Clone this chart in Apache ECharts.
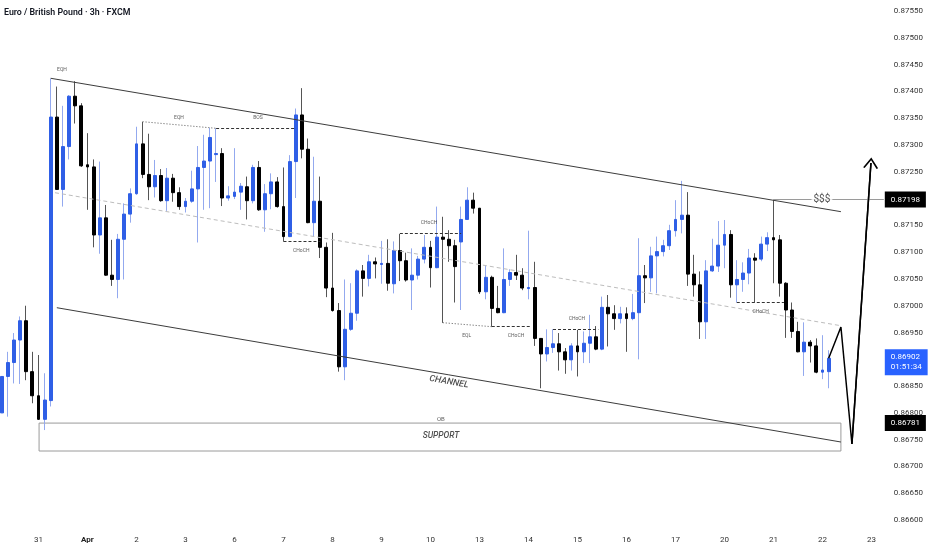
<!DOCTYPE html>
<html><head><meta charset="utf-8">
<script src="https://cdn.jsdelivr.net/npm/echarts@6/dist/echarts.min.js"></script>
<style>html,body{margin:0;padding:0;background:#fff}#c{width:932px;height:550px}</style>
</head><body><div id="c"></div>
<script>
// ---- data (3h candles, EUR/GBP) ----
const dayLabels = ['31','Apr','2','3','6','7','8','9','10','13','14','15','16','17','20','21','22','23'];
const firstDaySlot = 6, barsPerDay = 8, totalSlots = 145;

const opens = [0.86800,0.86868,0.86894,0.86936,0.86972,0.86877,0.86832,0.86788,0.86823,0.87352,
0.87217,0.87297,0.87391,0.87373,0.87263,0.87259,0.87132,0.87164,0.87057,0.87049,
0.87124,0.87171,0.87209,0.87302,0.87245,0.87222,0.87243,0.87196,0.87238,0.87211,
0.87185,0.87195,0.87218,0.87258,0.87270,0.87282,0.87284,0.87201,0.87204,0.87212,
0.87222,0.87196,0.87258,0.87179,0.87209,0.87231,0.87185,0.87129,0.87269,0.87356,
0.87292,0.87155,0.87195,0.87109,0.87033,0.86991,0.86886,0.86956,0.86986,0.87065,
0.87051,0.87082,0.87077,0.87079,0.87041,0.87103,0.87084,0.87048,0.87057,0.87087,
0.87109,0.87071,0.87128,0.87124,0.87112,0.87119,0.87161,0.87197,0.87182,0.87026,
0.87053,0.86995,0.86987,0.87049,0.87062,0.87057,0.87032,0.87034,0.86939,0.86910,
0.86922,0.86929,0.86914,0.86899,0.86925,0.86914,0.86930,0.86942,0.86919,0.86997,
0.86985,0.86976,0.86985,0.86976,0.86987,0.87056,0.87052,0.87093,0.87101,0.87112,
0.87140,0.87161,0.87169,0.87059,0.87039,0.86970,0.87065,0.87074,0.87113,0.87133,
0.87039,0.87049,0.87061,0.87089,0.87087,0.87115,0.87127,0.87123,0.87042,0.86992,
0.86952,0.86914,0.86932,0.86925,0.86876,0.86877];
const closes = [0.86868,0.86894,0.86936,0.86972,0.86877,0.86832,0.86788,0.86824,0.87352,0.87217,
0.87297,0.87391,0.87373,0.87261,0.87259,0.87132,0.87164,0.87057,0.87049,0.87124,
0.87171,0.87209,0.87302,0.87245,0.87222,0.87243,0.87196,0.87238,0.87211,0.87185,
0.87195,0.87218,0.87258,0.87270,0.87314,0.87284,0.87201,0.87205,0.87212,0.87223,
0.87196,0.87258,0.87179,0.87209,0.87231,0.87185,0.87129,0.87269,0.87356,0.87292,
0.87155,0.87195,0.87109,0.87033,0.86991,0.86886,0.86956,0.86986,0.87065,0.87051,
0.87082,0.87078,0.87079,0.87042,0.87103,0.87084,0.87048,0.87057,0.87087,0.87109,
0.87071,0.87128,0.87124,0.87112,0.87073,0.87161,0.87197,0.87182,0.87026,0.87053,
0.86995,0.86987,0.87049,0.87062,0.87057,0.87033,0.87034,0.86939,0.86910,0.86922,
0.86929,0.86914,0.86899,0.86925,0.86914,0.86930,0.86942,0.86919,0.86997,0.86985,
0.86976,0.86985,0.86976,0.86987,0.87056,0.87052,0.87093,0.87101,0.87112,0.87140,
0.87161,0.87169,0.87059,0.87039,0.86970,0.87065,0.87074,0.87113,0.87133,0.87039,
0.87049,0.87061,0.87089,0.87085,0.87115,0.87127,0.87123,0.87042,0.86992,0.86952,
0.86914,0.86932,0.86925,0.86876,0.86880,0.86902];
const lows = [0.86790,0.86793,0.86855,0.86854,0.86861,0.86818,0.86787,0.86768,0.86812,0.87216,
0.87185,0.87273,0.87340,0.87259,0.87179,0.87109,0.87097,0.87056,0.87037,0.87014,
0.87049,0.87155,0.87207,0.87238,0.87197,0.87202,0.87194,0.87177,0.87194,0.87179,
0.87174,0.87192,0.87118,0.87179,0.87182,0.87231,0.87186,0.87196,0.87199,0.87179,
0.87161,0.87191,0.87177,0.87138,0.87180,0.87183,0.87120,0.87128,0.87201,0.87275,
0.87154,0.87129,0.87089,0.87016,0.86989,0.86877,0.86861,0.86953,0.86972,0.87017,
0.87036,0.87051,0.87041,0.87028,0.87023,0.87046,0.87045,0.86992,0.87049,0.87079,
0.87034,0.87070,0.86968,0.87082,0.87006,0.86992,0.87160,0.87172,0.87022,0.87012,
0.86961,0.86986,0.86986,0.87037,0.87048,0.87029,0.87012,0.86925,0.86846,0.86896,
0.86912,0.86879,0.86873,0.86879,0.86868,0.86893,0.86893,0.86917,0.86917,0.86924,
0.86955,0.86967,0.86914,0.86973,0.86900,0.87005,0.87026,0.87023,0.87092,0.87104,
0.87129,0.87135,0.87037,0.87017,0.86938,0.86938,0.87063,0.87063,0.87070,0.87015,
0.87006,0.87026,0.87040,0.87006,0.87083,0.87102,0.87042,0.87017,0.86940,0.86940,
0.86913,0.86869,0.86894,0.86874,0.86863,0.86846];
const highs = [0.86983,0.86914,0.86949,0.86980,0.87000,0.86914,0.86908,0.86874,0.87424,0.87409,
0.87373,0.87393,0.87419,0.87378,0.87322,0.87273,0.87269,0.87188,0.87123,0.87134,
0.87191,0.87219,0.87334,0.87343,0.87321,0.87272,0.87255,0.87257,0.87246,0.87221,
0.87201,0.87252,0.87298,0.87319,0.87332,0.87331,0.87294,0.87223,0.87294,0.87229,
0.87241,0.87263,0.87270,0.87227,0.87247,0.87240,0.87258,0.87281,0.87368,0.87406,
0.87312,0.87278,0.87241,0.87118,0.87136,0.87005,0.87049,0.87042,0.87068,0.87076,
0.87095,0.87090,0.87121,0.87124,0.87120,0.87134,0.87099,0.87107,0.87093,0.87132,
0.87121,0.87185,0.87166,0.87141,0.87123,0.87185,0.87221,0.87211,0.87182,0.87076,
0.87056,0.87037,0.87107,0.87068,0.87095,0.87070,0.87140,0.87082,0.86939,0.86956,
0.86956,0.86949,0.86921,0.86930,0.86955,0.86952,0.86983,0.86962,0.87017,0.87020,
0.87001,0.86998,0.86997,0.87022,0.87126,0.87076,0.87110,0.87129,0.87123,0.87151,
0.87197,0.87233,0.87212,0.87095,0.87064,0.87085,0.87125,0.87158,0.87160,0.87141,
0.87085,0.87081,0.87106,0.87098,0.87129,0.87137,0.87198,0.87132,0.87044,0.87006,
0.86970,0.86969,0.86936,0.86939,0.86945,0.86917];

const yTicks = [0.86600,0.86650,0.86700,0.86750,0.86800,0.86850,0.86900,0.86950,0.87000,0.87050,
0.87100,0.87150,0.87200,0.87250,0.87300,0.87350,0.87400,0.87450,0.87500,0.87550];

// price tags on the axis
const priceTags = [
  {v: 0.87198, text: '0.87198', bg: '#000000'},
  {v: 0.86902, text: '0.86902\n01:51:34', bg: '#2962ff'},
  {v: 0.86781, text: '0.86781', bg: '#000000'}
];

// drawings (x in bar index, y in price)
const channelUpper = [[8.0, 0.874244], [137, 0.871755]];
const channelLower = [[9.0, 0.869963], [137, 0.867457]];
const channelMid   = [[8.7, 0.872109], [137, 0.869627]];
const eqhLine   = [[23, 0.873434], [35, 0.873311]];
const bosLine   = [[35, 0.873311], [48, 0.873311]];
const choch1    = [[46, 0.871195], [52, 0.871195]];
const choch2    = [[65, 0.871352], [75, 0.871352]];
const eqlLine   = [[72, 0.869683], [80, 0.869609]];
const choch3    = [[80, 0.869609], [86.5, 0.869609]];
const choch4    = [[90, 0.869560], [97.4, 0.869560]];
const choch5    = [[120, 0.870064], [127.7, 0.870064]];
const liquidity = [[126, 0.87198], [144, 0.87198]];
const obBox     = [[6.1, 0.86781], [137, 0.867289]];
const projection = [[135, 0.86902], [137, 0.869603], [138.8, 0.867420], [141.9, 0.872663]];

const notes = [
  [9.84, 0.874399, 'EQH', 'tiny'],
  [28.94, 0.873503, 'EQH', 'tiny'],
  [41.84, 0.873503, 'BOS', 'tiny'],
  [48.9, 0.871021, 'CHoCH', 'tiny'],
  [69.75, 0.871549, 'CHoCH', 'tiny'],
  [75.9, 0.869435, 'EQL', 'tiny'],
  [83.95, 0.869435, 'CHoCH', 'tiny'],
  [93.9, 0.869765, 'CHoCH', 'tiny'],
  [123.9, 0.869889, 'CHoCH', 'tiny'],
  [73.0, 0.868577, 'CHANNEL', 'channel'],
  [71.7, 0.867880, 'OB', 'ob'],
  [71.7, 0.867569, 'SUPPORT', 'support'],
  [133.9, 0.87198, '$$$', 'liq']
];

// ---- build ----
const categories = Array.from({length: totalSlots}, (_, k) => String(k));
function dayLabelAt(k) {
  if (k < firstDaySlot || (k - firstDaySlot) % barsPerDay) return '';
  return dayLabels[(k - firstDaySlot) / barsPerDay] || '';
}
const ohlc = opens.map((o, i) => [o, closes[i], lows[i], highs[i]]);
const bodies = opens.map((o, i) => [o, closes[i], Math.min(o, closes[i]), Math.max(o, closes[i])]);

const FONT = 'Roboto';
const st = {
  channel: {color: '#3c3c3c', width: 1, type: 'solid'},
  mid: {color: '#bdbdbd', width: 1, type: [4, 3]},
  dotted: {color: '#555', width: 1, type: [1, 2]},
  dashed: {color: '#333', width: 1, type: [3, 2]},
  liq: {color: '#9a9a9a', width: 1, type: 'solid'},
  arrow: {color: '#000', width: 1.5, type: 'solid'}
};
function seg(pts, style, extra) {
  return [{coord: pts[0], lineStyle: style}, Object.assign({coord: pts[1]}, extra || {})];
}
const noteStyles = {
  tiny: {fontSize: 5, color: '#333'},
  channel: {fontSize: 9, color: '#222', fontStyle: 'italic', fontWeight: 500, rotate: -9.7},
  ob: {fontSize: 6, color: '#333'},
  support: {fontSize: 8.5, color: '#222', fontStyle: 'italic', fontWeight: 500},
  liq: {fontSize: 10, color: '#222', backgroundColor: '#fff', padding: [0, 2]}
};
const chevron = 'path://M0,10 L6,0 L12,10 L10.8,10.8 L6,2.6 L1.2,10.8 Z';
const nameOf = (p) => p.name;

const tagLines = priceTags.map(t => [
  {coord: [0, t.v], lineStyle: {color: 'rgba(0,0,0,0)', width: 0}},
  {coord: [totalSlots - 1, t.v], name: t.text,
   label: {show: true, position: 'end', formatter: () => t.text, distance: 1,
     backgroundColor: t.bg, color: '#fff', fontSize: 8, lineHeight: 10,
     padding: [3, 6], fontFamily: FONT, offset: [0, t.text.indexOf('\n') > 0 ? 4 : 0]}}
]);

const chart = echarts.init(document.getElementById('c'), null, {renderer: 'canvas'});
chart.setOption({
  animation: false,
  backgroundColor: '#ffffff',
  textStyle: {fontFamily: FONT},
  title: {text: 'Euro / British Pound · 3h · FXCM', left: 4, top: 8, padding: 0,
    textStyle: {fontSize: 8.8, fontWeight: 600, color: '#131722', fontFamily: FONT}},
  grid: {left: 1.7, right: 48.2, top: 0, bottom: 20, containLabel: false},
  xAxis: [{
    type: 'category', data: categories, boundaryGap: false,
    axisLine: {show: false}, axisTick: {show: false}, splitLine: {show: false},
    axisLabel: {
      interval: (i) => dayLabelAt(i) !== '',
      formatter: (v) => { const t = dayLabelAt(Number(v)); return t === 'Apr' ? '{b|Apr}' : t; },
      fontSize: 8, color: '#333', margin: 6, fontFamily: FONT,
      rich: {b: {fontSize: 8, fontWeight: 700, color: '#222', fontFamily: FONT}}
    }
  }, {
    type: 'value', min: 0, max: totalSlots - 1, show: false
  }],
  yAxis: [{
    type: 'value', position: 'right', min: 0.865815, max: 0.875705, scale: true,
    axisLine: {show: false}, axisTick: {show: false}, splitLine: {show: false},
    axisLabel: {customValues: yTicks, formatter: (v) => v.toFixed(5), fontSize: 8,
      color: '#333', margin: 10, fontFamily: FONT, align: 'left'}
  }],
  series: [
    {
      type: 'candlestick', name: 'wicks', data: ohlc, barWidth: 0.01, z: 2,
      itemStyle: {color: '#93a9ef', color0: '#555', borderColor: '#93a9ef', borderColor0: '#555', borderWidth: 1}
    },
    {
      type: 'candlestick', name: 'bodies', data: bodies, barWidth: 3.4, z: 3,
      itemStyle: {color: '#2f5fe6', color0: '#000', borderColor: '#2f5fe6', borderColor0: '#000', borderWidth: 1}
    },
    {
      type: 'line', name: 'drawings', xAxisIndex: 1, yAxisIndex: 0, z: 4,
      data: projection, symbol: 'none', lineStyle: st.arrow, silent: true,
      markArea: {silent: true,
        itemStyle: {color: 'rgba(0,0,0,0)', borderColor: '#9a9a9a', borderWidth: 1},
        data: [[{coord: obBox[0]}, {coord: obBox[1]}]]},
      markLine: {
        silent: true, symbol: ['none', 'none'], label: {show: false},
        data: [
          seg(channelUpper, st.channel),
          seg(channelLower, st.channel),
          seg(channelMid, st.mid),
          seg(eqhLine, st.dotted),
          seg(bosLine, st.dashed),
          seg(choch1, st.dashed),
          seg(choch2, st.dashed),
          seg(eqlLine, st.dotted),
          seg(choch3, st.dashed),
          seg(choch4, st.dashed),
          seg(choch5, st.dashed),
          seg(liquidity, st.liq),
          seg([projection[2], projection[3]], st.arrow, {symbol: chevron, symbolSize: [15, 11]})
        ].concat(tagLines)
      }
    },
    {
      type: 'scatter', name: 'notes', xAxisIndex: 1, yAxisIndex: 0, z: 5, silent: true,
      symbolSize: 0,
      data: notes.map(n => ({value: [n[0], n[1]], name: n[2],
        label: Object.assign({show: true, position: 'inside', formatter: nameOf, fontFamily: FONT}, noteStyles[n[3]])}))
    }
  ]
});
</script>
</body></html>
